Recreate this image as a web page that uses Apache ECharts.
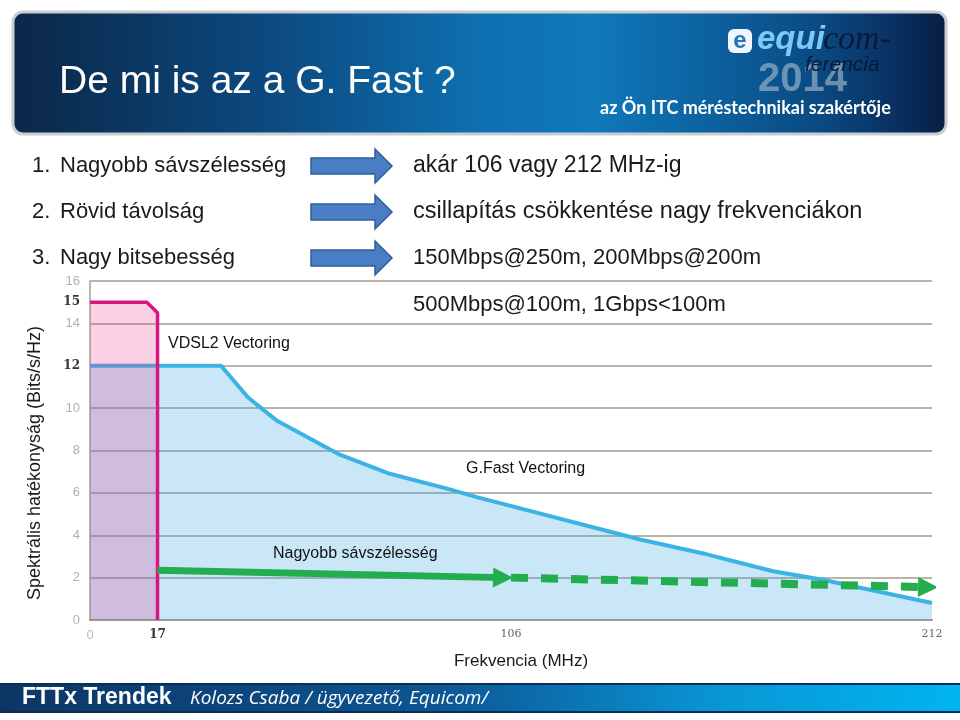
<!DOCTYPE html>
<html><head><meta charset="utf-8">
<script src="https://cdn.jsdelivr.net/npm/echarts@6/dist/echarts.min.js"></script>
<style>html,body{margin:0;padding:0;background:#fff}#c{width:960px;height:720px}</style>
</head><body><div id="c"></div>
<script>
// ---- data ----
const title = 'De mi is az a G. Fast ?';
const bulletNums = ['1.', '2.', '3.'];
const bulletLeft = ['Nagyobb sávszélesség', 'Rövid távolság', 'Nagy bitsebesség'];
const bulletRight = ['akár 106 vagy 212 MHz-ig', 'csillapítás csökkentése nagy frekvenciákon', '150Mbps@250m, 200Mbps@200m', '500Mbps@100m, 1Gbps<100m'];
const xTicks = [0, 17, 106, 212];
const xBold = [17];
const yTicks = [0, 2, 4, 6, 8, 10, 12, 14, 15, 16];
const yBold = [12, 15];
const gfastX = [0, 33, 39.8, 47.1, 62.9, 75.5, 89.9, 97.4, 138.5, 155.3, 172, 184.5, 212];
const gfastY = [12, 12, 10.5, 9.4, 7.8, 6.9, 6.2, 5.8, 3.8, 3.1, 2.3, 1.9, 0.8];
const vdslX = [0, 14.3, 17, 17];
const vdslY = [15, 15, 14.5, 0];
const arrowSolidX = [17, 104];
const arrowSolidY = [2.35, 2.0];
const arrowDashX = [106, 211];
const arrowDashY = [2.0, 1.55];
const seriesLabels = ['VDSL2 Vectoring', 'G.Fast Vectoring', 'Nagyobb sávszélesség'];
const xTitle = 'Frekvencia (MHz)';
const yTitle = 'Spektrális hatékonyság (Bits/s/Hz)';
const logoTagline = 'az Ön ITC méréstechnikai szakértője';
const footerTitle = 'FTTx Trendek';
const footerAuthor = 'Kolozs Csaba / ügyvezető, Equicom/';

// ---- chart ----
const zip = (xs, ys) => xs.map((x, i) => [x, ys[i]]);
const chart = echarts.init(document.getElementById('c'), null, {renderer: 'canvas'});
const SANS = '"Liberation Sans", Arial, sans-serif';

const graphics = [];
// title bar
graphics.push({type: 'rect', shape: {x: 13, y: 12, width: 933, height: 122, r: 10},
  style: {fill: new echarts.graphic.LinearGradient(0, 0, 1, 0, [
    {offset: 0, color: '#0b2747'}, {offset: 0.28, color: '#0c4a80'}, {offset: 0.5, color: '#0e70b0'},
    {offset: 0.62, color: '#0f79ba'}, {offset: 0.76, color: '#0c5f9c'}, {offset: 0.86, color: '#0a4a82'},
    {offset: 0.94, color: '#0a3264'}, {offset: 1, color: '#081e40'}]), stroke: '#c9cdd2', lineWidth: 3}, z: 1});
graphics.push({type: 'text', x: 59, y: 82, style: {text: title, fill: '#fff', font: '39px ' + SANS, textVerticalAlign: 'middle'}, z: 5});
// logo
graphics.push({type: 'rect', shape: {x: 728, y: 29, width: 24, height: 24, r: 6}, style: {fill: '#f2f6fa'}, z: 5});
graphics.push({type: 'text', x: 740, y: 41, style: {text: 'e', fill: '#1f77bd', font: 'bold 24px ' + SANS, textAlign: 'center', textVerticalAlign: 'middle'}, z: 6});
graphics.push({type: 'text', x: 757, y: 40, style: {text: 'equi', fill: '#7ccaf3', font: 'italic bold 33px ' + SANS, textVerticalAlign: 'middle'}, z: 6});
graphics.push({type: 'text', x: 823, y: 40, style: {text: 'com-', fill: '#0a1a38', font: 'italic 34px "Liberation Serif", serif', textVerticalAlign: 'middle'}, z: 6});
graphics.push({type: 'text', x: 758, y: 80, style: {text: '2014', fill: 'rgba(150,175,200,0.7)', font: 'bold 40px ' + SANS, textVerticalAlign: 'middle'}, z: 5});
graphics.push({type: 'text', x: 805, y: 65, style: {text: 'ferencia', fill: '#071a3a', font: 'italic 21px ' + SANS, textVerticalAlign: 'middle'}, z: 6});
graphics.push({type: 'text', x: 600, y: 108, style: {text: logoTagline, fill: '#fff', font: 'bold 18px Lato, sans-serif', textVerticalAlign: 'middle'}, z: 6});
// bullets
const rowY = [166, 212, 258, 305];
bulletLeft.forEach((t, i) => {
  graphics.push({type: 'text', x: 32, y: rowY[i], style: {text: bulletNums[i], fill: '#1a1a1a', font: '22px ' + SANS, textVerticalAlign: 'middle'}, z: 5});
  graphics.push({type: 'text', x: 60, y: rowY[i], style: {text: t, fill: '#1a1a1a', font: '22px ' + SANS, textVerticalAlign: 'middle'}, z: 5});
  const c = rowY[i];
  graphics.push({type: 'polygon', shape: {points: [[311, c - 8], [375, c - 8], [375, c - 17], [392, c], [375, c + 17], [375, c + 8], [311, c + 8]]},
    style: {fill: '#4a7ec4', stroke: '#2e5d9a', lineWidth: 1.5}, z: 5});
});
const rightSizes = [23, 23.5, 22, 22];
bulletRight.forEach((t, i) => {
  graphics.push({type: 'text', x: 413, y: rowY[i], style: {text: t, fill: '#1a1a1a', font: rightSizes[i] + 'px ' + SANS, textVerticalAlign: 'middle'}, z: 5});
});
// chart annotations
const lblStyle = (t) => ({text: t, fill: '#111', font: '16px ' + SANS, textVerticalAlign: 'middle', shadowColor: 'rgba(0,0,0,0.3)', shadowBlur: 2, shadowOffsetX: 1, shadowOffsetY: 1});
graphics.push({type: 'text', x: 168, y: 344, style: lblStyle(seriesLabels[0]), z: 100});
graphics.push({type: 'text', x: 466, y: 469, style: lblStyle(seriesLabels[1]), z: 100});
graphics.push({type: 'text', x: 273, y: 554, style: lblStyle(seriesLabels[2]), z: 100});
// axis titles
graphics.push({type: 'text', x: 35, y: 463, rotation: Math.PI / 2, style: {text: yTitle, fill: '#1a1a1a', font: '18px ' + SANS, textAlign: 'center', textVerticalAlign: 'middle'}, z: 5});
graphics.push({type: 'text', x: 521, y: 661, style: {text: xTitle, fill: '#1a1a1a', font: '17px ' + SANS, textAlign: 'center', textVerticalAlign: 'middle'}, z: 5});
// footer
graphics.push({type: 'rect', shape: {x: 0, y: 683, width: 960, height: 30},
  style: {fill: new echarts.graphic.LinearGradient(0, 0, 1, 0, [
    {offset: 0, color: '#0c3563'}, {offset: 0.45, color: '#0d5592'}, {offset: 0.75, color: '#0996d6'}, {offset: 1, color: '#00b5ef'}])}, z: 1});
graphics.push({type: 'line', shape: {x1: 0, y1: 684, x2: 960, y2: 684}, style: {stroke: '#0a2f57', lineWidth: 2}, z: 2});
graphics.push({type: 'line', shape: {x1: 0, y1: 712, x2: 960, y2: 712}, style: {stroke: '#0a2f57', lineWidth: 2}, z: 2});
graphics.push({type: 'text', x: 22, y: 698, style: {text: footerTitle, fill: '#fff', font: 'bold 23px ' + SANS, textVerticalAlign: 'middle'}, z: 5});
graphics.push({type: 'text', x: 190, y: 699, style: {text: footerAuthor, fill: '#fff', font: 'italic 19px "Open Sans", sans-serif', textVerticalAlign: 'middle'}, z: 5});

const option = {
  animation: false,
  backgroundColor: '#fff',
  grid: {left: 90, right: 28, top: 281, bottom: 100, containLabel: false, outerBoundsMode: 'none'},
  xAxis: {
    type: 'value', min: 0, max: 212,
    axisLine: {show: true, onZero: false, lineStyle: {color: '#9e9a96', width: 2}},
    axisTick: {show: false},
    splitLine: {show: false},
    axisLabel: {
      customValues: xTicks, margin: 9,
      formatter: v => xBold.includes(v) ? '{b|' + v + '}' : (v === 0 ? '{l|' + v + '}' : '{n|' + v + '}'),
      rich: {
        b: {fontWeight: 'bold', color: '#333', fontSize: 12, fontFamily: '"DejaVu Serif", serif'},
        l: {color: '#bbb', fontSize: 13, fontFamily: SANS},
        n: {color: '#666', fontSize: 11, fontFamily: '"DejaVu Serif", serif'}
      }
    }
  },
  yAxis: {
    type: 'value', min: 0, max: 16, interval: 2,
    axisLine: {show: true, lineStyle: {color: '#bdb6ae', width: 2}},
    axisTick: {show: false},
    splitLine: {show: true, lineStyle: {color: '#bbb3aa', width: 2}},
    axisLabel: {
      customValues: yTicks, margin: 10,
      formatter: v => yBold.includes(v) ? '{b|' + v + '}' : '{n|' + v + '}',
      rich: {
        b: {fontWeight: 'bold', color: '#333', fontSize: 12, fontFamily: '"DejaVu Serif", serif'},
        n: {color: '#b0b0b0', fontSize: 13, fontFamily: SANS}
      }
    }
  },
  series: [
    {type: 'line', data: zip(gfastX, gfastY), symbol: 'none', z: 2,
      lineStyle: {color: '#3cb3e5', width: 4},
      areaStyle: {color: 'rgba(60,168,228,0.4)', origin: 'start'}},
    {type: 'line', data: zip(vdslX, vdslY), symbol: 'none', z: 3,
      lineStyle: {color: '#d6177f', width: 3.5},
      areaStyle: {color: 'rgba(232,50,140,0.33)', origin: 'start'}},
    {type: 'lines', coordinateSystem: 'cartesian2d', z: 4,
      symbol: ['none', 'triangle'], symbolSize: 20,
      lineStyle: {color: '#22ad4f', width: 7, opacity: 1, curveness: 0},
      data: [{coords: zip(arrowSolidX, arrowSolidY)}]},
    {type: 'lines', coordinateSystem: 'cartesian2d', z: 4,
      symbol: ['none', 'triangle'], symbolSize: 20,
      lineStyle: {color: '#22ad4f', width: 8, opacity: 1, curveness: 0, type: [17, 13], cap: 'butt'},
      data: [{coords: zip(arrowDashX, arrowDashY)}]}
  ],
  graphic: {elements: graphics}
};
chart.setOption(option);
</script>
</body></html>
